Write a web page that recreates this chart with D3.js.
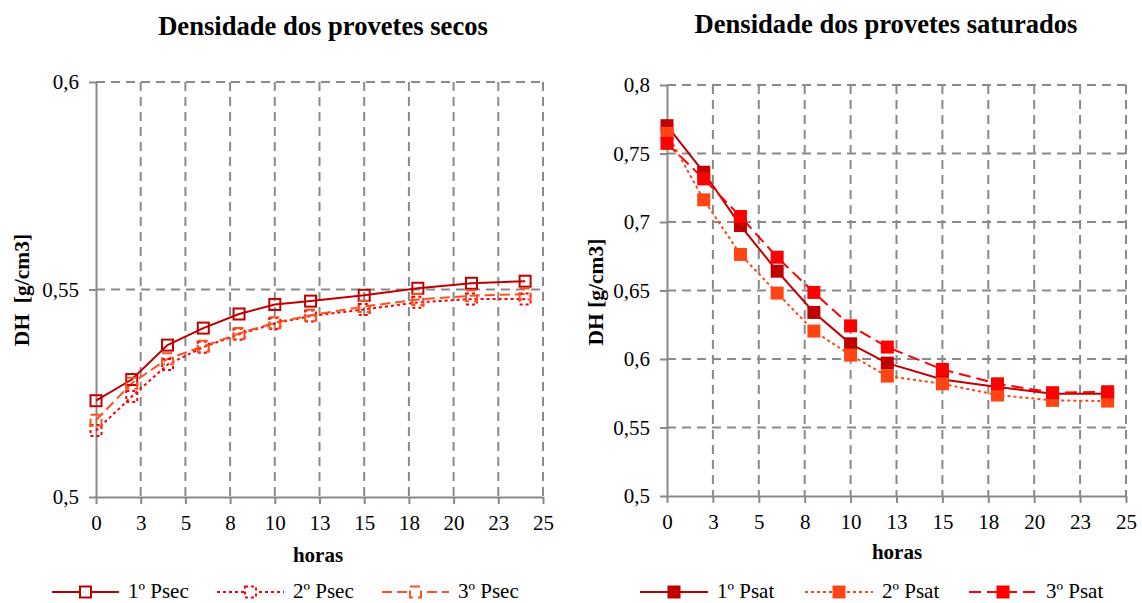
<!DOCTYPE html>
<html>
<head>
<meta charset="utf-8">
<script src="https://cdn.jsdelivr.net/npm/d3@7/dist/d3.min.js"></script>
<style>
  html, body { margin: 0; padding: 0; background: #fff; }
  svg { display: block; }
  svg text { font-family: "Liberation Serif", "Times New Roman", serif; fill: #000; }
</style>
</head>
<body>
<svg id="chart" width="1142" height="603"></svg>
<script>
// ---- data ----
const hours = [0, 2, 4, 6, 8, 10, 12, 15, 18, 21, 24];

const secNames = ["1º Psec", "2º Psec", "3º Psec"];
const psec1 = [0.5232, 0.5283, 0.5366, 0.5407, 0.5441, 0.5464, 0.5472, 0.5486, 0.5503, 0.5515, 0.5520];
const psec2 = [0.5160, 0.5242, 0.5319, 0.5361, 0.5392, 0.5418, 0.5436, 0.5452, 0.5469, 0.5477, 0.5477];
const psec3 = [0.5185, 0.5274, 0.5333, 0.5363, 0.5394, 0.5420, 0.5438, 0.5459, 0.5476, 0.5485, 0.5489];

const satNames = ["1º Psat", "2º Psat", "3º Psat"];
const psat1 = [0.7703, 0.7363, 0.6974, 0.6641, 0.6340, 0.6111, 0.5970, 0.5851, 0.5795, 0.5746, 0.5746];
const psat2 = [0.7647, 0.7162, 0.6763, 0.6481, 0.6204, 0.6028, 0.5875, 0.5819, 0.5737, 0.5698, 0.5693];
const psat3 = [0.7574, 0.7315, 0.7040, 0.6743, 0.6486, 0.6242, 0.6087, 0.5924, 0.5819, 0.5754, 0.5761];

const xTicks = [0, 2.5, 5, 7.5, 10, 12.5, 15, 17.5, 20, 22.5, 25];
const xTickLabels = ["0", "3", "5", "8", "10", "13", "15", "18", "20", "23", "25"];

const secYTicks = [0.5, 0.55, 0.6];
const secYTickLabels = ["0,5", "0,55", "0,6"];
const satYTicks = [0.5, 0.55, 0.6, 0.65, 0.7, 0.75, 0.8];
const satYTickLabels = ["0,5", "0,55", "0,6", "0,65", "0,7", "0,75", "0,8"];

// ---- drawing ----
const svg = d3.select("#chart");
const AXIS = "#898989";
const GRID = "#8a8a8a";
const FONT = "'Liberation Serif', 'Times New Roman', serif";

function drawChart(cfg) {
  const g = svg.append("g");
  const x = d3.scaleLinear().domain([0, 25]).range([cfg.x0, cfg.x1]);
  const yMin = cfg.yTicks[0], yMax = cfg.yTicks[cfg.yTicks.length - 1];
  const y = d3.scaleLinear().domain([yMin, yMax]).range([cfg.yB, cfg.yT]);

  // gridlines
  g.append("g").selectAll("line").data(xTicks.slice(1)).join("line")
    .attr("x1", d => x(d)).attr("x2", d => x(d))
    .attr("y1", y(yMax)).attr("y2", y(yMin))
    .attr("stroke", GRID).attr("stroke-width", 2).attr("stroke-dasharray", "9,6");
  g.append("g").selectAll("line").data(cfg.yTicks.slice(1)).join("line")
    .attr("x1", x(0)).attr("x2", x(25))
    .attr("y1", d => y(d)).attr("y2", d => y(d))
    .attr("stroke", GRID).attr("stroke-width", 2).attr("stroke-dasharray", "9,6");

  // axes
  const xa = g.append("g").attr("transform", `translate(0,${y(yMin)})`)
    .call(d3.axisBottom(x).tickValues(xTicks).tickFormat((d, i) => xTickLabels[i])
      .tickSizeInner(7).tickSizeOuter(0).tickPadding(11));
  const ya = g.append("g").attr("transform", `translate(${x(0)},0)`)
    .call(d3.axisLeft(y).tickValues(cfg.yTicks).tickFormat((d, i) => cfg.yLabels[i])
      .tickSizeInner(7).tickSizeOuter(0).tickPadding(10));
  [xa, ya].forEach(a => {
    a.attr("font-family", null).attr("font-size", null);
    a.select(".domain").attr("stroke", AXIS).attr("stroke-width", 2);
    a.selectAll(".tick line").attr("stroke", AXIS).attr("stroke-width", 2);
    a.selectAll("text").style("font-family", FONT).style("font-size", "21px").attr("fill", "#000");
  });

  // series
  const line = d3.line().x(d => x(d[0])).y(d => y(d[1]));
  cfg.series.forEach(s => {
    const pts = hours.map((h, i) => [h, s.values[i]]);
    g.append("path").datum(pts).attr("d", line)
      .attr("fill", "none").attr("stroke", s.color).attr("stroke-width", 2)
      .attr("stroke-dasharray", s.dash);
  });
  cfg.series.forEach(s => {
    const pts = hours.map((h, i) => [h, s.values[i]]);
    g.append("g").selectAll("rect").data(pts).join("rect")
      .attr("x", d => x(d[0]) - cfg.ms / 2).attr("y", d => y(d[1]) - cfg.ms / 2)
      .attr("width", cfg.ms).attr("height", cfg.ms)
      .attr("fill", cfg.filled ? s.color : "none")
      .attr("stroke", s.color).attr("stroke-width", 2)
      .attr("stroke-dasharray", cfg.filled ? null : s.dash);
  });

  // titles
  g.append("text").attr("x", cfg.titleX).attr("y", cfg.titleY).attr("text-anchor", "middle")
    .style("font-family", FONT).style("font-size", "26.6px").style("font-weight", "bold").text(cfg.title);
  g.append("text").attr("x", cfg.hX).attr("y", cfg.hY).attr("text-anchor", "middle")
    .style("font-family", FONT).style("font-size", "21px").style("font-weight", "bold").text("horas");
  g.append("text").attr("transform", `translate(${cfg.yLabX},${cfg.yLabY}) rotate(-90)`)
    .attr("text-anchor", "middle")
    .style("font-family", FONT).style("font-size", "21.5px").style("font-weight", "bold")
    .style("white-space", "pre").text(cfg.yLabel);

  // legend
  cfg.series.forEach((s, i) => {
    const lx = cfg.legX[i];
    const lg = g.append("g");
    lg.append("line").attr("x1", lx).attr("x2", lx + cfg.legLen).attr("y1", cfg.legY).attr("y2", cfg.legY)
      .attr("stroke", s.color).attr("stroke-width", 2).attr("stroke-dasharray", s.dash);
    lg.append("rect").attr("x", lx + cfg.legLen / 2 - cfg.ms / 2).attr("y", cfg.legY - cfg.ms / 2)
      .attr("width", cfg.ms).attr("height", cfg.ms)
      .attr("fill", cfg.filled ? s.color : "#fff").attr("stroke", s.color).attr("stroke-width", 2)
      .attr("stroke-dasharray", cfg.filled ? null : s.dash);
    lg.append("text").attr("x", lx + cfg.legLen + 9).attr("y", cfg.legY + 6)
      .style("font-family", FONT).style("font-size", "21px").text(s.name);
  });
}

drawChart({
  x0: 96, x1: 543, yB: 497, yT: 82,
  yTicks: secYTicks, yLabels: secYTickLabels,
  title: "Densidade dos provetes secos", titleX: 323, titleY: 35,
  hX: 318, hY: 562, yLabX: 29, yLabY: 290, yLabel: "DH  [g/cm3]",
  ms: 11, filled: false,
  legX: [52, 217, 382], legLen: 67, legY: 592,
  series: [
    { name: secNames[0], values: psec1, color: "#C00000", dash: null },
    { name: secNames[1], values: psec2, color: "#FF0000", dash: "3,3" },
    { name: secNames[2], values: psec3, color: "#FF5020", dash: "10,5" }
  ]
});

drawChart({
  x0: 667, x1: 1126, yB: 496, yT: 85,
  yTicks: satYTicks, yLabels: satYTickLabels,
  title: "Densidade dos provetes saturados", titleX: 886, titleY: 33,
  hX: 897, hY: 559, yLabX: 603, yLabY: 292, yLabel: "DH [g/cm3]",
  ms: 11, filled: true,
  legX: [640, 805, 969], legLen: 68, legY: 592,
  series: [
    { name: satNames[0], values: psat1, color: "#C00000", dash: null },
    { name: satNames[1], values: psat2, color: "#FF4515", dash: "3,3" },
    { name: satNames[2], values: psat3, color: "#FF0000", dash: "12,6" }
  ]
});
</script>
</body>
</html>
